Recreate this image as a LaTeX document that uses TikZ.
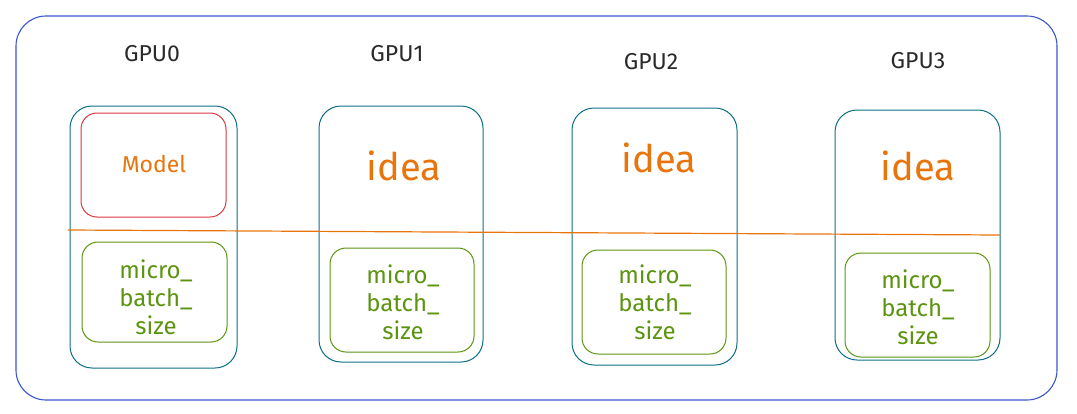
\documentclass[tikz,border=0pt]{standalone}
\usepackage{fontspec}
\setmainfont{Fira Sans}
\definecolor{outerblue}{HTML}{3B55D0}
\definecolor{teal}{HTML}{0C7085}
\definecolor{mred}{HTML}{D9363E}
\definecolor{morange}{HTML}{E8750C}
\definecolor{mgreen}{HTML}{5C9410}
\definecolor{ink}{HTML}{2A2A2A}
\begin{document}
\begin{tikzpicture}[x=1pt,y=-1pt,
  outer/.style={draw=outerblue,line width=1.1pt,rounded corners=30pt},
  gpucol/.style={draw=teal,line width=1pt,rounded corners=22pt},
  modelbox/.style={draw=mred,line width=1pt,rounded corners=16pt},
  mbbox/.style={draw=mgreen,line width=1pt,rounded corners=16pt},
  gpulabel/.style={text=ink,font=\fontsize{23}{25}\selectfont},
  ideatxt/.style={text=morange,font=\fontsize{38}{40}\selectfont},
  modeltxt/.style={text=morange,font=\fontsize{23}{25}\selectfont},
  mbtxt/.style={text=mgreen,font=\fontsize{24}{28}\selectfont,align=center},
  sep/.style={draw=morange,line width=1.2pt}]
\useasboundingbox (0,0) rectangle (1077,413);
\draw[outer] (16,16) rectangle (1057,400);
% labels
\node[gpulabel] (g0) at (152,54) {GPU0};
\node[gpulabel] (g1) at (397,54) {GPU1};
\node[gpulabel] (g2) at (651,62) {GPU2};
\node[gpulabel] (g3) at (918,61) {GPU3};
% columns
\draw[gpucol] (70,106) rectangle (237,368);
\draw[gpucol] (319,106) rectangle (483,362);
\draw[gpucol] (572,108) rectangle (737,365);
\draw[gpucol] (835,110) rectangle (1000,360);
% top contents
\draw[modelbox] (81,113) rectangle (226,217);
\node[modeltxt] (m0) at (154,164) {Model};
\node[ideatxt] (i1) at (404,166) {idea};
\node[ideatxt] (i2) at (659,158) {idea};
\node[ideatxt] (i3) at (918,166) {idea};
% separator
\coordinate (s0) at (68,230);
\coordinate (s1) at (1000,235);
\draw[sep] (s0) -- (s1);
% micro batch boxes
\draw[mbbox] (82,242) rectangle (227,342);
\node[mbtxt] (b0) at (156,297) {micro\_\\batch\_\\size};
\draw[mbbox] (330,248) rectangle (474,352);
\node[mbtxt] (b1) at (403,302) {micro\_\\batch\_\\size};
\draw[mbbox] (582,250) rectangle (726,354);
\node[mbtxt] (b2) at (655,302) {micro\_\\batch\_\\size};
\draw[mbbox] (845,253) rectangle (990,357);
\node[mbtxt] (b3) at (918,307) {micro\_\\batch\_\\size};
\end{tikzpicture}
\end{document}
